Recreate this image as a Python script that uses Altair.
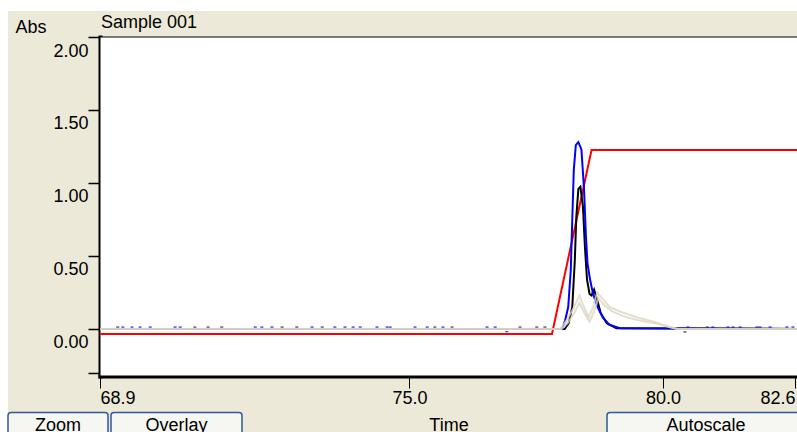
import altair as alt
import pandas as pd

FONT = "Liberation Sans"

# ---- axis ranges and ticks ----
X_DOMAIN = [68.9, 82.64]
Y_DOMAIN = [-0.322, 2.0]
x_ticks = [68.9, 75.0, 80.0, 82.6]
y_ticks = [-0.3, 0.0, 0.5, 1.0, 1.5, 2.0]

# ---- series (time, absorbance) ----
red_t = [68.9, 77.81, 78.59, 82.64]
red_v = [-0.034, -0.034, 1.226, 1.226]

blue_t = [68.9, 78.01, 78.07, 78.13, 78.18, 78.21, 78.24, 78.28, 78.33, 78.39,
          78.44, 78.48, 78.51, 78.56, 78.62, 78.71, 78.81, 78.94, 79.15, 82.64]
blue_v = [0.0, 0.0, 0.06, 0.15, 0.40, 0.75, 1.09, 1.26, 1.28, 1.23,
          0.97, 0.63, 0.45, 0.34, 0.24, 0.15, 0.08, 0.03, 0.005, 0.0]

black_t = [68.9, 78.06, 78.14, 78.21, 78.26, 78.29, 78.33, 78.37, 78.42, 78.46,
           78.50, 78.55, 78.59, 78.64, 78.70, 78.77, 78.89, 79.08, 82.64]
black_v = [0.0, 0.0, 0.04, 0.15, 0.47, 0.77, 0.96, 0.975, 0.84, 0.56,
           0.34, 0.24, 0.23, 0.27, 0.20, 0.11, 0.04, 0.005, 0.0]

beige1_t = [68.9, 77.97, 78.10, 78.23, 78.35, 78.43, 78.53, 78.62, 78.70, 78.80,
            78.95, 79.15, 79.48, 79.81, 80.07, 80.27, 82.64]
beige1_v = [0.0, 0.0, 0.06, 0.14, 0.23, 0.16, 0.08, 0.15, 0.25, 0.21,
            0.15, 0.12, 0.08, 0.05, 0.02, 0.0, 0.0]

beige2_t = [68.9, 78.00, 78.12, 78.25, 78.35, 78.45, 78.55, 78.64, 78.72, 78.85,
            79.00, 79.20, 79.50, 79.85, 80.10, 80.30, 82.64]
beige2_v = [0.0, 0.0, 0.04, 0.11, 0.18, 0.11, 0.05, 0.12, 0.21, 0.16,
            0.12, 0.09, 0.06, 0.04, 0.015, 0.0, 0.0]

# baseline noise specks
blue_noise_t = [69.35, 69.53, 69.69, 69.89, 70.38, 70.48, 71.96, 72.09, 72.29, 73.08,
                73.53, 73.73, 73.89, 74.03, 74.36, 74.56, 74.62, 75.11, 75.35, 75.66,
                76.53, 76.69, 76.92, 80.49, 80.98, 81.28, 81.52, 81.85, 82.11, 82.44, 82.56]
blue_noise_v = [0.013] * 22 + [-0.018] + [0.013] * 8
black_noise_t = [69.25, 70.77, 71.03, 71.30, 72.49, 72.78, 73.28, 75.5, 75.84,
                 77.18, 77.51, 77.67, 80.43, 80.87, 81.38, 81.91]
black_noise_v = [0.013] * 12 + [-0.02] + [0.013] * 3

panel_title = ["Sample 001"]
button_labels = ["Zoom", "Overlay", "Autoscale"]

BG = "#ECE9D8"

x_axis = alt.Axis(
    values=x_ticks, format=".1f", grid=False,
    domainColor="black", domainWidth=4, domainCap="square",
    tickColor="black", tickWidth=1, tickSize=12,
    labelFont=FONT, labelFontSize=18, labelColor="black", labelPadding=1,
    labelFlush=6, labelOverlap=False,
    titleFont=FONT, titleFontSize=18, titleFontWeight="normal", titleColor="black",
    titleX=348.5, titleY=54, titleAlign="center", titleBaseline="alphabetic",
)
y_axis = alt.Axis(
    values=y_ticks, grid=False,
    labelExpr="datum.value < -0.1 ? '' : format(datum.value, '.2f')",
    domainColor="black", domainWidth=4, domainCap="square",
    tickColor="black", tickWidth=1.5, tickSize=12,
    labelFont=FONT, labelFontSize=18, labelColor="black", labelPadding=0,
    labelBaseline="top", labelOffset=5, labelOverlap=False,
    titleFont=FONT, titleFontSize=18, titleFontWeight="normal", titleColor="black",
    titleAngle=0, titleX=-85, titleY=-5, titleAlign="left", titleBaseline="alphabetic",
)

X = alt.X("t:Q", scale=alt.Scale(domain=X_DOMAIN, nice=False, zero=False), axis=x_axis, title="Time")
Y = alt.Y("v:Q", scale=alt.Scale(domain=Y_DOMAIN, nice=False, zero=False), axis=y_axis, title="Abs")


def series(ts, vs):
    return pd.DataFrame({"t": ts, "v": vs})


one = pd.DataFrame({"a": [0]})

# window chrome
white_top = alt.Chart(one).mark_rect(fill="white", strokeWidth=0).encode(
    x=alt.value(-100), x2=alt.value(697), y=alt.value(-37), y2=alt.value(-26))
white_left = alt.Chart(one).mark_rect(fill="white", strokeWidth=0).encode(
    x=alt.value(-100), x2=alt.value(-92), y=alt.value(-37), y2=alt.value(395))
plot_bg = alt.Chart(one).mark_rect(fill="white", stroke="black", strokeWidth=1).encode(
    x=alt.value(0), x2=alt.value(698), y=alt.value(0), y2=alt.value(339))
title_txt = alt.Chart(pd.DataFrame({"label": panel_title})).mark_text(
    font=FONT, fontSize=18, color="black", baseline="alphabetic", align="left").encode(
    text="label:N", x=alt.value(1), y=alt.value(-9))

btn_pos = [(-92, 8, -42), (11, 142, 76.5), (507, 702, 606)]
buttons = []
for label, (bx1, bx2, bc) in zip(button_labels, btn_pos):
    buttons.append(alt.Chart(one).mark_rect(
        fill="#F6F6F3", stroke="#2C5A9A", strokeWidth=1.5, cornerRadius=3).encode(
        x=alt.value(bx1), x2=alt.value(bx2), y=alt.value(375.5), y2=alt.value(410)))
    buttons.append(alt.Chart(pd.DataFrame({"label": [label]})).mark_text(
        font=FONT, fontSize=18, color="black", baseline="alphabetic", align="center").encode(
        text="label:N", x=alt.value(bc), y=alt.value(394)))

red = alt.Chart(series(red_t, red_v)).mark_line(color="#FF0000", strokeWidth=2).encode(x=X, y=Y)
black = alt.Chart(series(black_t, black_v)).mark_line(color="black", strokeWidth=2).encode(x=X, y=Y)
blue = alt.Chart(series(blue_t, blue_v)).mark_line(color="#0000FF", strokeWidth=2).encode(x=X, y=Y)
black_noise = alt.Chart(series(black_noise_t, black_noise_v)).mark_tick(
    color="#222222", orient="horizontal", size=3, thickness=1.5).encode(x=X, y=Y)
blue_noise = alt.Chart(series(blue_noise_t, blue_noise_v)).mark_tick(
    color="#0000FF", orient="horizontal", size=3, thickness=1.5).encode(x=X, y=Y)
beige1 = alt.Chart(series(beige1_t, beige1_v)).mark_line(
    color="#DCD6C0", strokeWidth=2, opacity=0.8).encode(x=X, y=Y)
beige2 = alt.Chart(series(beige2_t, beige2_v)).mark_line(
    color="#DCD6C0", strokeWidth=2, opacity=0.8).encode(x=X, y=Y)

chart = alt.layer(
    white_top, white_left, plot_bg, title_txt, *buttons,
    red, black, blue, black_noise, blue_noise, beige1, beige2,
).properties(
    width=697, height=339,
    padding={"left": 100, "top": 37, "right": 0, "bottom": 56},
    autosize=alt.AutoSizeParams(type="none"),
    background=BG,
).configure(font=FONT).configure_view(
    fill="white", stroke="black", strokeWidth=1,
)

chart.save("out.html", embed_options={"renderer": "svg", "actions": False})
